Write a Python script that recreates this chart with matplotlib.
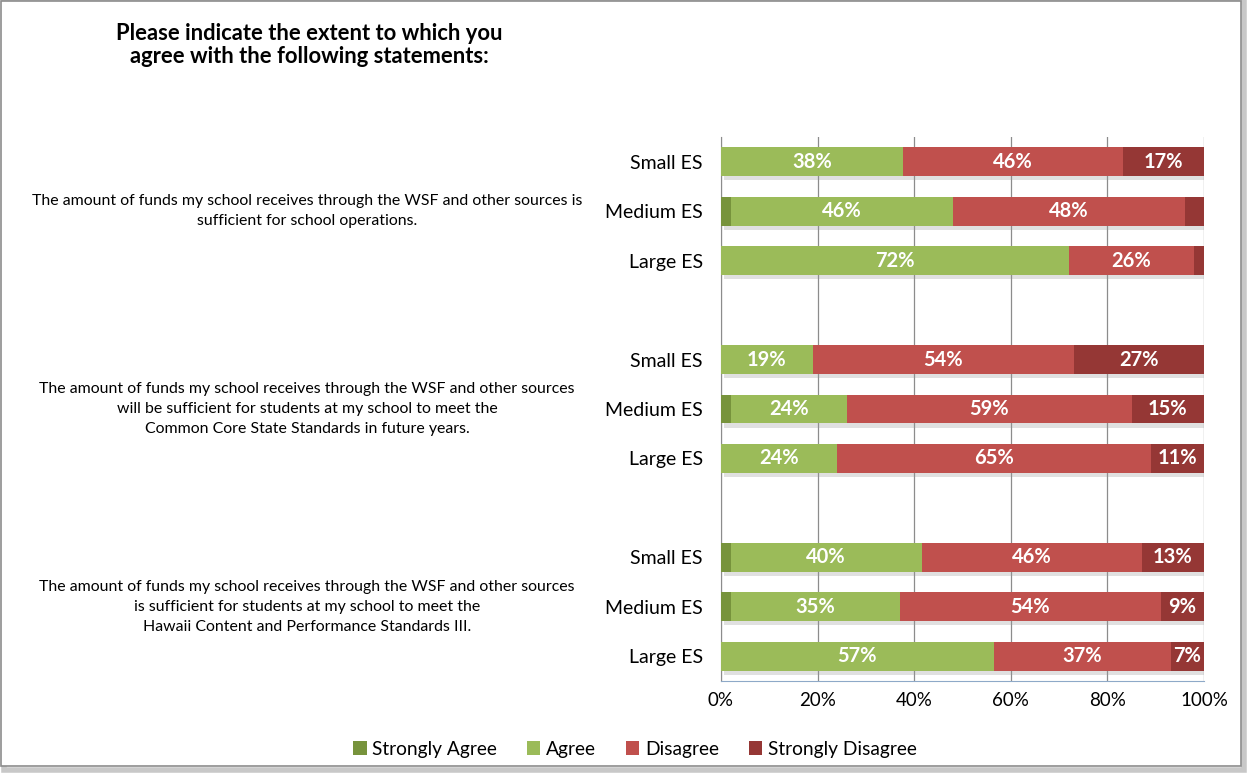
import matplotlib
matplotlib.use("Agg")
import matplotlib.pyplot as plt
import matplotlib.patheffects as pe
from matplotlib import transforms
from matplotlib.patches import Patch, Rectangle
import numpy as np

plt.rcParams["font.family"] = ["Lato", "DejaVu Sans"]

categories = ["Small ES", "Medium ES", "Large ES"]
statements = [
    "The amount of funds my school receives through the WSF and other sources is\nsufficient for school operations.",
    "The amount of funds my school receives through the WSF and other sources\nwill be sufficient for students at my school to meet the\nCommon Core State Standards in future years.",
    "The amount of funds my school receives through the WSF and other sources\nis sufficient for students at my school to meet the\nHawaii Content and Performance Standards III.",
]
series = ["Strongly Agree", "Agree", "Disagree", "Strongly Disagree"]
colors = ["#77933C", "#9BBB59", "#C0504D", "#953735"]

# one row per bar, top to bottom: statement 1 (Small, Medium, Large), statement 2, statement 3
strongly_agree = [0, 2, 0, 0, 2, 0, 2, 2, 0]
agree = [38, 46, 72, 19, 24, 24, 40, 35, 57]
disagree = [46, 48, 26, 54, 59, 65, 46, 54, 37]
strongly_disagree = [17, 4, 2, 27, 15, 11, 13, 9, 7]

values = np.array([strongly_agree, agree, disagree, strongly_disagree], dtype=float)
shares = values / values.sum(axis=0) * 100

# slot positions: 3 bars per statement, one empty slot between groups
positions = []
for g in range(3):
    for i in range(3):
        positions.append(g * 4 + i)
positions = np.array(positions)

fig = plt.figure(figsize=(12.5, 7.78), dpi=100)

# chart frame
fig.patches.append(Rectangle((4 / 1250, 8 / 778), 1240 / 1250, 768 / 778, transform=fig.transFigure,
                             fill=False, edgecolor="#c8c8c8", linewidth=4, zorder=-2))
fig.patches.append(Rectangle((1 / 1250, 12 / 778), 1240 / 1250, 765 / 778, transform=fig.transFigure,
                             fill=True, facecolor="white", edgecolor="#8c8c8c", linewidth=1.2, zorder=-1))

ax = fig.add_axes([721 / 1250, 1 - 681 / 778, 483 / 1250, 544 / 778])
ax.set_zorder(1)
ax.patch.set_alpha(0)

left = np.zeros(len(positions))
for k, name in enumerate(series):
    bars = ax.barh(positions, shares[k], left=left, height=0.58, color=colors[k], zorder=3)
    for b in bars:
        b.set_path_effects([pe.SimplePatchShadow(offset=(2, -3), shadow_rgbFace="#999999", alpha=0.3),
                            pe.Normal()])
    for p, l, w, v in zip(positions, left, shares[k], values[k]):
        if v >= 5:
            ax.text(l + w / 2, p, f"{v:.0f}%", ha="center", va="center", color="white",
                    fontsize=14.5, fontweight="bold", zorder=4)
    left += shares[k]

ax.set_xlim(0, 100)
ax.set_ylim(10.5, -0.5)
ax.set_xticks(np.arange(0, 101, 20))
ax.set_xticklabels([f"{t}%" for t in range(0, 101, 20)], fontsize=13.5)
ax.set_yticks(positions)
ax.set_yticklabels(categories * 3, fontsize=14)
ax.tick_params(axis="y", length=0, pad=13)
ax.tick_params(axis="x", length=0, pad=8)
ax.grid(axis="x", color="#8c8c8c", linewidth=0.9, zorder=0)
for s in ["top", "right"]:
    ax.spines[s].set_visible(False)
ax.spines["left"].set_color("#8c8c8c")
ax.spines["bottom"].set_color("#8EA9C8")

trans = transforms.blended_transform_factory(fig.transFigure, ax.transData)
for g, text in enumerate(statements):
    ax.text(307 / 1250, g * 4 + 1, text, transform=trans, ha="center", va="center",
            fontsize=11.4, linespacing=1.55)

fig.text(309 / 1250, 1 - 45 / 778, "Please indicate the extent to which you\nagree with the following statements:",
         ha="center", va="center", fontsize=15.8, fontweight="bold", linespacing=1.15)

handles = [Patch(facecolor=c, label=n) for n, c in zip(series, colors)]
fig.legend(handles=handles, loc="center", bbox_to_anchor=(635 / 1250, 1 - 749 / 778),
           ncol=4, frameon=False, fontsize=13.8, handlelength=0.7, handleheight=0.7,
           handletextpad=0.3, columnspacing=1.55)

fig.savefig("out.png", dpi=100)
